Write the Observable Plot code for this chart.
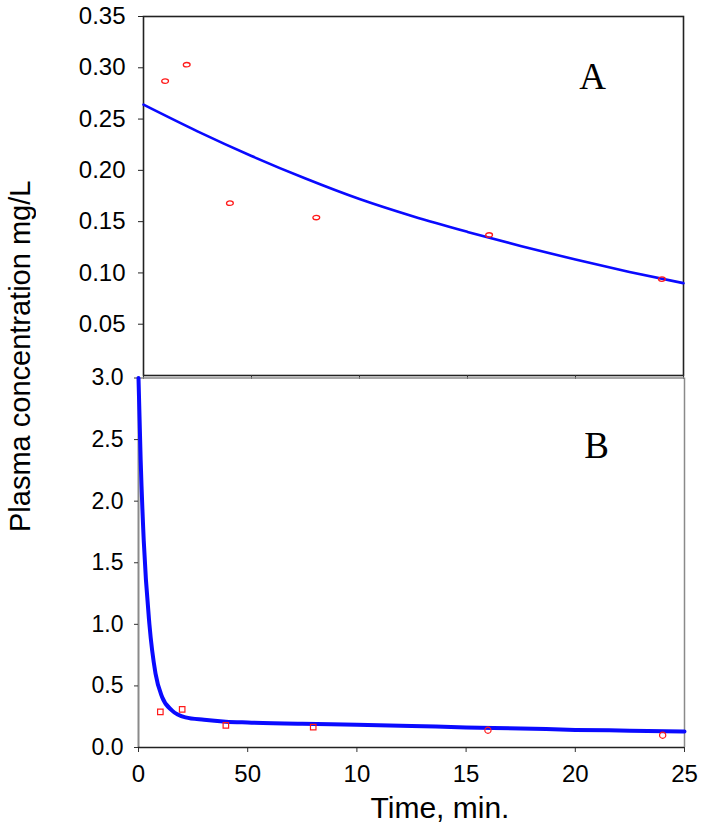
<!DOCTYPE html>
<html>
<head>
<meta charset="utf-8">
<script src="https://cdn.jsdelivr.net/npm/d3@7"></script>
<script src="https://cdn.jsdelivr.net/npm/@observablehq/plot@0.6"></script>
<style>
  html, body { margin: 0; padding: 0; background: #fff; }
  #wrap { position: relative; width: 702px; height: 833px; background: #fff; font-family: "Liberation Sans", Arial, sans-serif; overflow: hidden; }
  #wrap svg { overflow: visible; background: transparent; }
  .ytitle { position: absolute; left: 6px; top: 180px; height: 353px; width: 29px; line-height: 29px; font-size: 29px;
            writing-mode: vertical-rl; transform: rotate(180deg); text-align: center; color: #000; white-space: nowrap; }
  .xtitle { position: absolute; left: 290px; width: 300px; top: 793px; font-size: 30px; line-height: 30px; text-align: center; color: #000; white-space: nowrap; }
</style>
</head>
<body>
<div id="wrap">
  <div class="ytitle">Plasma concentration mg/L</div>
  <div class="xtitle">Time, min.</div>
</div>
<script>
// ---- Data ----
// Panel A (observed, open ellipses)
const timesA = [1, 2, 4, 8, 16, 24];
const concA  = [0.287, 0.303, 0.168, 0.154, 0.137, 0.094];
// Panel A fitted curve
const fitTimeA = [0, 2.5, 5, 7.5, 10, 12.5, 15, 17.5, 20, 22.5, 25];
const fitConcA = [0.264, 0.238, 0.214, 0.192, 0.172, 0.155, 0.140, 0.126, 0.113, 0.101, 0.090];

// Panel B (observed, open squares)
const timesB = [1, 2, 4, 8, 16, 24];
const concB  = [0.29, 0.31, 0.18, 0.165, 0.14, 0.10];
// Panel B fitted curve
const fitTimeB = [0, 0.1, 0.24, 0.5, 0.78, 1.08, 1.54, 2.15, 3, 4, 5, 7.5, 10, 12.5, 15, 17.5, 20, 22.5, 25];
const fitConcB = [3.0, 2.33, 1.68, 1.0, 0.6, 0.41, 0.30, 0.245, 0.225, 0.21, 0.203, 0.192, 0.185, 0.175, 0.163, 0.155, 0.143, 0.137, 0.13];

// Axis ticks and labels
const xTicks = [0, 5, 10, 15, 20, 25];
const xTickLabels = ["0", "50", "10", "15", "20", "25"];
const yTicksA = [0.05, 0.10, 0.15, 0.20, 0.25, 0.30, 0.35];
const yTickLabelsA = ["0.05", "0.10", "0.15", "0.20", "0.25", "0.30", "0.35"];
const yTicksB = [0, 0.5, 1.0, 1.5, 2.0, 2.5, 3.0];
const yTickLabelsB = ["0.0", "0.5", "1.0", "1.5", "2.0", "2.5", "3.0"];
const panelLabels = ["A", "B"];

// ---- Build tables ----
const ptsA = timesA.map((t, i) => ({t, c: concA[i]}));
const lineA = fitTimeA.map((t, i) => ({t, c: fitConcA[i]}));
const ptsB = timesB.map((t, i) => ({t, c: concB[i]}));
const lineB = fitTimeB.map((t, i) => ({t, c: fitConcB[i]}));

// Ellipse symbol (flattened circle)
const ellipse = {
  draw(ctx, size) {
    const r = Math.sqrt(size / Math.PI);
    const rx = r * 1.0, ry = r * 0.65, k = 0.5523;
    ctx.moveTo(rx, 0);
    ctx.bezierCurveTo(rx, ry * k, rx * k, ry, 0, ry);
    ctx.bezierCurveTo(-rx * k, ry, -rx, ry * k, -rx, 0);
    ctx.bezierCurveTo(-rx, -ry * k, -rx * k, -ry, 0, -ry);
    ctx.bezierCurveTo(rx * k, -ry, rx, -ry * k, rx, 0);
    ctx.closePath();
  }
};

const lab = (ticks, labels) => (v) => { const i = ticks.findIndex(d => Math.abs(d - v) < 1e-9); return i >= 0 ? labels[i] : ""; };

const BLUE = "#0a0aff";
const RED = "#ff1a1a";

// ---- Panel A ----
const plotA = Plot.plot({
  width: 702,
  height: 380,
  marginLeft: 143,
  marginRight: 19,
  marginTop: 16,
  marginBottom: 5,
  style: {fontFamily: "'Liberation Sans', Arial, sans-serif", fontSize: "24px", color: "#000", background: "transparent", overflow: "visible"},
  x: {domain: [0, 25], axis: null},
  y: {domain: [0, 0.35], axis: null},
  marks: [
    Plot.frame({stroke: "#222", strokeWidth: 1.6}),
    Plot.axisY({ticks: yTicksA, tickFormat: lab(yTicksA, yTickLabelsA), label: null, tickSize: 5, tickPadding: 13, fontSize: 24, stroke: "#222"}),
    Plot.axisX({ticks: xTicks, tickFormat: () => "", label: null, tickSize: 4, stroke: "#333"}),
    Plot.line(lineA, {x: "t", y: "c", stroke: BLUE, strokeWidth: 2.6, curve: "monotone-x"}),
    Plot.dot(ptsA, {x: "t", y: "c", symbol: ellipse, r: 3.4, stroke: RED, strokeWidth: 1.3, fill: "none"}),
    Plot.text([panelLabels[0]], {text: d => d, frameAnchor: "top-right", dx: -91, dy: 46, lineAnchor: "top", textAnchor: "middle",
      fontFamily: "'Liberation Serif', 'Times New Roman', serif", fontSize: 37, fill: "#000"})
  ]
});

// ---- Panel B ----
const plotB = Plot.plot({
  width: 702,
  height: 473,
  marginLeft: 138,
  marginRight: 18,
  marginTop: 17.5,
  marginBottom: 86,
  style: {fontFamily: "'Liberation Sans', Arial, sans-serif", fontSize: "24px", color: "#000", background: "transparent", overflow: "visible"},
  x: {domain: [0, 25], axis: null},
  y: {domain: [0, 3], axis: null},
  marks: [
    Plot.ruleY([3], {stroke: "#8a8a8a", strokeWidth: 1.6}),
    Plot.ruleX([0], {stroke: "#8a8a8a", strokeWidth: 2}),
    Plot.ruleX([25], {stroke: "#8a8a8a", strokeWidth: 1.5}),
    Plot.axisY({ticks: yTicksB, tickFormat: lab(yTicksB, yTickLabelsB), label: null, tickSize: 4, tickPadding: 11, fontSize: 23, stroke: "#333"}),
    Plot.axisX({ticks: xTicks, tickFormat: lab(xTicks, xTickLabels), label: null, tickSize: 5, tickPadding: 12, fontSize: 24, stroke: "#333"}),
    Plot.ruleY([0], {stroke: "#222", strokeWidth: 1.5}),
    Plot.line(lineB, {x: "t", y: "c", stroke: BLUE, strokeWidth: 4, curve: "monotone-x"}),
    Plot.dot(ptsB, {x: "t", y: "c", symbol: d => d.t >= 16 ? "circle" : "square", r: 3.1, stroke: RED, strokeWidth: 1.2, fill: "none"}),
    Plot.text([panelLabels[1]], {text: d => d, frameAnchor: "top-right", dx: -88, dy: 54, lineAnchor: "top", textAnchor: "middle",
      fontFamily: "'Liberation Serif', 'Times New Roman', serif", fontSize: 37, fill: "#000"})
  ]
});

const wrap = document.getElementById("wrap");
plotA.style.position = "absolute"; plotA.style.left = "0px"; plotA.style.top = "0px";
plotB.style.position = "absolute"; plotB.style.left = "0px"; plotB.style.top = "360px";
wrap.appendChild(plotA);
wrap.appendChild(plotB);
</script>
</body>
</html>
